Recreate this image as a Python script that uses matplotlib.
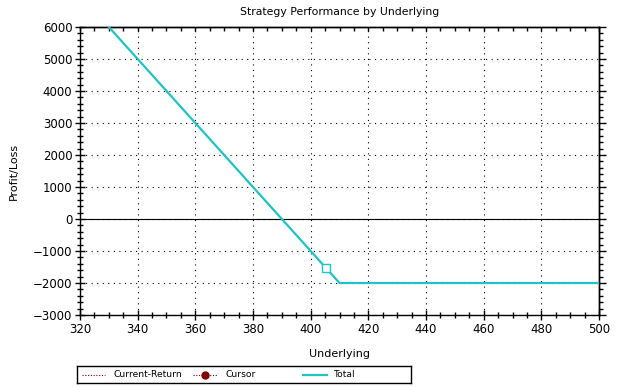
import matplotlib
matplotlib.use("Agg")
import matplotlib.pyplot as plt
from matplotlib.ticker import MultipleLocator, NullFormatter
import numpy as np

# Data
underlying = [330, 410, 500]
total_pl = [6000, -2000, -2000]
cursor_x = [405.3]
cursor_y = [-1530]
x_ticks = [320, 340, 360, 380, 400, 420, 440, 460, 480, 500]
y_ticks = [-3000, -2000, -1000, 0, 1000, 2000, 3000, 4000, 5000, 6000]

TEAL = "#1fc3c3"
W, H = 619, 387
fig = plt.figure(figsize=(W / 100, H / 100), dpi=100)
fig.patch.set_facecolor("white")
ax = fig.add_axes([80 / W, (H - 315) / H, 519 / W, 288 / H])

ax.plot(underlying, total_pl, color=TEAL, lw=1.6, zorder=3)
ax.plot(cursor_x, cursor_y, marker="s", ms=6, mfc="white", mec=TEAL, mew=1.0,
        ls="none", zorder=4)
ax.axhline(0, color="black", lw=0.8, zorder=2)

ax.set_xlim(320, 500)
ax.set_ylim(-3000, 6000)
ax.set_xticks(x_ticks)
ax.set_yticks(y_ticks)
ax.xaxis.set_minor_locator(MultipleLocator(5))
ax.yaxis.set_minor_locator(MultipleLocator(200))
ax.grid(True, which="major", color="black", ls=(0, (1, 4)), lw=0.8)
ax.tick_params(which="major", direction="inout", length=7, width=1,
               labelsize=8.5, right=False, top=False, pad=2)
ax.tick_params(which="minor", direction="inout", length=4, width=1,
               right=False, top=False)
for s in ax.spines.values():
    s.set_color("black")
    s.set_linewidth(1)

# top ticks (inward, every 5)
tax = ax.secondary_xaxis("top")
tax.xaxis.set_major_locator(MultipleLocator(5))
tax.xaxis.set_major_formatter(NullFormatter())
tax.tick_params(which="major", direction="in", length=3, width=1)
tax.spines["top"].set_linewidth(1)

# right ticks (outward)
rax = ax.secondary_yaxis("right")
rax.yaxis.set_major_locator(MultipleLocator(1000))
rax.yaxis.set_minor_locator(MultipleLocator(200))
rax.yaxis.set_major_formatter(NullFormatter())
rax.tick_params(which="major", direction="out", length=5, width=1)
rax.tick_params(which="minor", direction="out", length=3, width=1)
rax.spines["right"].set_linewidth(1)

fsz = 7.5
fig.text(0.5 * (80 + 599) / W, 1 - 12 / H, "Strategy Performance by Underlying",
         ha="center", va="center", fontsize=7.8)
fig.text(0.5 * (80 + 599) / W, 1 - 354 / H, "Underlying", ha="center",
         va="center", fontsize=fsz + 0.5)
fig.text(14 / W, 1 - 171 / H, "Profit/Loss", ha="center", va="center",
         rotation=90, fontsize=fsz + 0.5)

# Legend box (pixel coordinates)
lax = fig.add_axes([77 / W, (H - 383) / H, 334 / W, 17 / H])
yc = 8.5
lax.plot([82, 105], [yc, yc], color="#800000", ls=(0, (1, 1.5)), lw=0.8)
lax.text(113, yc, "Current-Return", va="center", fontsize=6.6)
lax.plot([193, 217], [yc, yc], color="#800000", ls=(0, (1, 1.5)), lw=0.8)
lax.plot([205], [yc], marker="o", color="#800000", ms=5, ls="none")
lax.text(225, yc, "Cursor", va="center", fontsize=6.6)
lax.plot([303, 327], [yc, yc], color=TEAL, lw=1.6)
lax.text(334, yc, "Total", va="center", fontsize=6.6)
lax.set_xlim(77, 411)
lax.set_ylim(0, 17)
lax.set_xticks([])
lax.set_yticks([])
for s in lax.spines.values():
    s.set_color("black")
    s.set_linewidth(1)

fig.savefig("out.png", dpi=100)
